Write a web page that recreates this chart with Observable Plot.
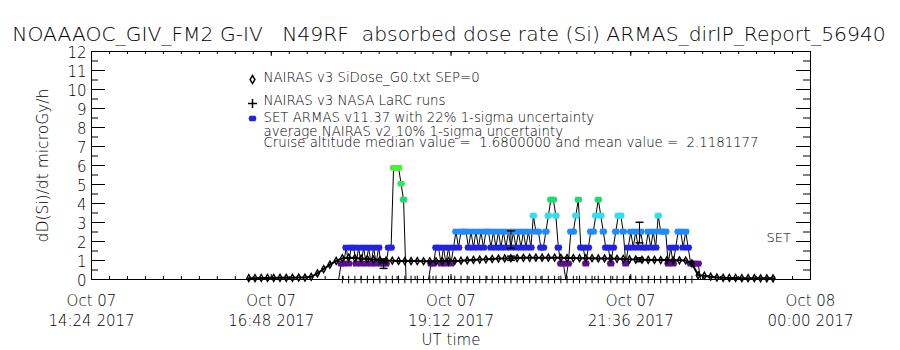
<!DOCTYPE html>
<html><head><meta charset="utf-8">
<script src="https://cdn.jsdelivr.net/npm/d3@7"></script>
<script src="https://cdn.jsdelivr.net/npm/@observablehq/plot@0.6"></script>
<style>body{margin:0;background:#fff;}</style>
</head><body><div id="chart"></div>
<script>
// ---------- data ----------
const titleText = "NOAAAOC_GIV_FM2 G-IV   N49RF  absorbed dose rate (Si) ARMAS_dirIP_Report_56940";
const yTitle = "dD(Si)/dt microGy/h";
const xTitle = "UT time";
const legendLabels = [
  "NAIRAS v3 SiDose_G0.txt SEP=0",
  "NAIRAS v3 NASA LaRC runs",
  "SET ARMAS v11.37 with 22% 1-sigma uncertainty",
  "average NAIRAS v2 10% 1-sigma uncertainty",
  "Cruise altitude median value =  1.6800000 and mean value =  2.1181177"
];
const xTickTimes = ["2017-10-07T14:24", "2017-10-07T16:48", "2017-10-07T19:12", "2017-10-07T21:36", "2017-10-08T00:00"];
const xTickLabels = ["Oct 07\n14:24 2017", "Oct 07\n16:48 2017", "Oct 07\n19:12 2017", "Oct 07\n21:36 2017", "Oct 08\n00:00 2017"];
const yTickValues = [0,1,2,3,4,5,6,7,8,9,10,11,12];

// NAIRAS v3 SiDose (UT 2017-10-07)
const siTime = ["16:30","16:35","16:40","16:45","16:50","16:55","17:00","17:05","17:10","17:15","17:20","17:25","17:30","17:35","17:40","17:45","17:50","17:55",
  "18:00","18:05","18:10","18:15","18:20","18:25","18:30","18:35","18:40","18:45","18:50","18:55",
  "19:00","19:05","19:10","19:15","19:20","19:25","19:30","19:35","19:40","19:45","19:50","19:55",
  "20:00","20:05","20:10","20:15","20:20","20:25","20:30","20:35","20:40","20:45","20:50","20:55",
  "21:00","21:05","21:10","21:15","21:20","21:25","21:30","21:35","21:40","21:45","21:50","21:55",
  "22:00","22:05","22:10","22:15","22:20","22:25","22:30","22:35","22:40","22:45","22:50","22:55",
  "23:00","23:05","23:10","23:15","23:20","23:25","23:30"];
const siDose = [0.07,0.07,0.08,0.08,0.08,0.09,0.09,0.09,0.10,0.10,0.14,0.32,0.55,0.78,0.98,1.12,1.15,1.13,
  1.10,1.08,1.05,1.02,1.00,0.99,0.98,0.97,0.97,0.97,0.96,0.96,
  0.96,0.97,0.97,0.98,0.99,1.01,1.03,1.05,1.06,1.08,1.10,1.11,
  1.12,1.13,1.14,1.14,1.15,1.15,1.15,1.15,1.14,1.13,1.13,1.12,
  1.12,1.12,1.11,1.11,1.10,1.09,1.08,1.06,1.05,1.04,1.03,1.03,
  1.02,1.02,1.01,1.01,1.00,0.85,0.22,0.20,0.15,0.10,0.09,0.08,
  0.08,0.07,0.07,0.07,0.06,0.06,0.06];

// NAIRAS v3 NASA LaRC runs
const larcTime = ["17:45","17:50","17:55","18:00","18:05","18:10","18:15","18:20","18:25","18:30","18:35","18:40","18:45","18:50","18:55",
  "19:00","19:05","19:10","19:15","19:20","19:25","19:30","19:35","19:40","19:45","19:50","19:55",
  "20:00","20:05","20:10","20:15","20:20","20:25","20:30","20:35","20:40","20:45","20:50","20:55",
  "21:00","21:05","21:10","21:15","21:20","21:25","21:30","21:35","21:40","21:45","21:50","21:55",
  "22:00","22:05","22:10","22:15","22:20","22:25"];
const larcDose = [0,0,0,0,0,0,0,0,0,0,0,0,0,0,0, 0,0,0,0,0,0,0,0,0,0,0,0, 0,0,0,0,0,0,0,0,0,0,0,0, 0,0,0,0,0,0,0,0,0,0,0,0, 0,0,0,0,0,0];

// SET ARMAS v11.37
const armasTime = ["17:42","17:44","17:46","17:48","17:50","17:52","17:54","17:56","17:58",
  "18:00","18:02","18:04","18:06","18:08","18:10","18:12","18:14","18:16","18:18","18:20","18:22","18:24","18:26","18:28","18:30","18:32","18:34","18:36","18:38","18:40","18:42","18:44","18:46","18:48","18:50","18:52","18:54","18:56","18:58",
  "19:00","19:02","19:04","19:06","19:08","19:10","19:12","19:14","19:16","19:18","19:20","19:22","19:24","19:26","19:28","19:30","19:32","19:34","19:36","19:38","19:40","19:42","19:44","19:46","19:48","19:50","19:52","19:54","19:56","19:58",
  "20:00","20:02","20:04","20:06","20:08","20:10","20:12","20:14","20:16","20:18","20:20","20:22","20:24","20:26","20:28","20:30","20:32","20:34","20:36","20:38","20:40","20:42","20:44","20:46","20:48","20:50","20:52","20:54","20:56","20:58",
  "21:00","21:02","21:04","21:06","21:08","21:10","21:12","21:14","21:16","21:18","21:20","21:22","21:24","21:26","21:28","21:30","21:32","21:34","21:36","21:38","21:40","21:42","21:44","21:46","21:48","21:50","21:52","21:54","21:56","21:58",
  "22:00","22:02","22:04","22:06","22:08","22:10","22:12","22:14","22:16","22:18","22:20","22:22","22:24","22:26","22:28","22:30","22:32"];
const armasDose = [0,0.84,0.84,1.68,0.84,1.68,1.68,0.84,1.68,
  0.84,1.68,0.84,1.68,0.84,1.68,0.84,1.68,0.84,0.84,0.84,1.68,1.68,5.88,5.88,5.88,5.04,4.2,0,0,0,0,0,0,0,0,0,0,0.84,0.84,
  1.68,1.68,0.84,1.68,0.84,1.68,0.84,1.68,2.52,1.68,2.52,2.52,2.52,1.68,2.52,1.68,2.52,1.68,2.52,1.68,2.52,2.52,1.68,2.52,1.68,2.52,1.68,2.52,1.68,2.52,
  1.68,2.52,1.68,2.52,1.68,2.52,1.68,2.52,1.68,3.36,2.52,2.52,1.68,1.68,2.52,3.36,4.2,4.2,3.36,1.68,0.84,0.84,0,0.84,2.52,2.52,3.36,4.2,1.68,1.68,
  0.84,1.68,2.52,2.52,3.36,4.2,3.36,2.52,1.68,1.68,0.84,1.68,2.52,3.36,3.36,2.52,0.84,1.68,2.52,1.68,2.52,1.68,2.52,1.68,1.68,2.52,1.68,2.52,1.68,3.36,
  2.52,2.52,2.52,0.84,1.68,0.84,1.68,2.52,2.52,1.68,2.52,1.68,0.84,0.84,0.84,0.84,0];

// 1-sigma uncertainty bars
const errTime = ["18:18","20:00","21:43"];
const armasErrMid = [0.75, 2.10, 2.47];
const armasErrHalf = [0.165, 0.46, 0.54];
const nairasErrMid = [0.98, 1.12, 1.04];
const nairasErrHalf = [0.10, 0.11, 0.10];

// ARMAS colour levels (IDL rainbow table)
const levelBreaks = [0.42, 1.26, 2.1, 2.94, 3.78, 4.62, 5.46];
const levelColors = ["#000000", "#5c1090", "#2222e4", "#1e8cff", "#30e0f0", "#22d870", "#30e860", "#48f038"];

// ---------- build ----------
const toDate = t => new Date(`2017-10-07T${t}:00Z`);
const si = siTime.map((t, i) => ({t: toDate(t), v: siDose[i]}));
const larc = larcTime.map((t, i) => ({t: toDate(t), v: larcDose[i]}));
const armas = armasTime.map((t, i) => ({t: toDate(t), v: armasDose[i]}));
const errs = errTime.map((t, i) => ({t: toDate(t), am: armasErrMid[i], ah: armasErrHalf[i], nm: nairasErrMid[i], nh: nairasErrHalf[i]}));
const xMajor = xTickTimes.map(s => new Date(s + ":00Z"));
const x0 = xMajor[0], x1 = xMajor[xMajor.length - 1];
const xMinor = d3.range(0, 41).map(i => new Date(+x0 + i * (x1 - x0) / 40));
const yMinor = d3.range(0, 12.01, 0.5);

const W = 900, H = 350, ML = 91, MR = 90, MT = 51, MB = 71;
const FW = W - ML - MR, FH = H - MT - MB;
const FONT = '"DejaVu Sans", "Liberation Sans", sans-serif';

// IDL-style user symbols
const cap = {draw(ctx, size) { const r = Math.sqrt(size / Math.PI); ctx.moveTo(-r, 0); ctx.lineTo(r, 0); }};
const blob = {draw(ctx, size) {
  const r = Math.sqrt(size / Math.PI), a = 1.3 * r, b = 0.95 * r;
  ctx.moveTo(-a, 0); ctx.lineTo(-0.75 * a, -b); ctx.lineTo(0.75 * a, -b); ctx.lineTo(a, 0);
  ctx.lineTo(0.75 * a, b); ctx.lineTo(-0.75 * a, b); ctx.closePath();
}};
const legendDy = [26, 49, 66, 80, 91];
const txt = {fill: "#000", lineAnchor: "middle", fontWeight: 300};

const chart = Plot.plot({
  width: W, height: H,
  marginLeft: ML, marginRight: MR, marginTop: MT, marginBottom: MB,
  style: {fontFamily: FONT, background: "#fff", color: "#000"},
  x: {type: "utc", domain: [x0, x1], axis: null},
  y: {domain: [0, 12], axis: null},
  color: {type: "threshold", domain: levelBreaks, range: levelColors},
  marks: [
    // LaRC runs
    Plot.dot(larc, {x: "t", y: "v", symbol: "plus", r: 2.6, stroke: "#000", strokeWidth: 1}),
    // ARMAS
    Plot.line(armas, {x: "t", y: "v", stroke: "#000", strokeWidth: 1}),
    Plot.dot(armas.filter(d => d.v > 0), {x: "t", y: "v", fill: "v", symbol: blob, r: 3}),
    // NAIRAS SiDose
    Plot.line(si, {x: "t", y: "v", stroke: "#000", strokeWidth: 2}),
    Plot.dot(si, {x: "t", y: "v", symbol: "diamond", r: 2.1, stroke: "#000", strokeWidth: 1.4, fill: "none"}),
    // uncertainty bars
    Plot.ruleX(errs, {x: "t", y1: d => d.am - d.ah, y2: d => d.am + d.ah, stroke: "#000"}),
    Plot.dot(errs, {x: "t", y: d => d.am - d.ah, symbol: cap, r: 4, stroke: "#000"}),
    Plot.dot(errs, {x: "t", y: d => d.am + d.ah, symbol: cap, r: 4, stroke: "#000"}),
    Plot.ruleX(errs, {x: "t", y1: d => d.nm - d.nh, y2: d => d.nm + d.nh, stroke: "#000"}),
    Plot.dot(errs, {x: "t", y: d => d.nm - d.nh, symbol: cap, r: 4, stroke: "#000"}),
    Plot.dot(errs, {x: "t", y: d => d.nm + d.nh, symbol: cap, r: 4, stroke: "#000"}),
    // frame and ticks
    Plot.frame({stroke: "#000"}),
    Plot.tickX(xMinor, {x: d => d, insetTop: FH - 3, stroke: "#000"}),
    Plot.tickX(xMinor, {x: d => d, insetBottom: FH - 3, stroke: "#000"}),
    Plot.tickX(xMajor, {x: d => d, insetTop: FH - 5, stroke: "#000"}),
    Plot.tickX(xMajor, {x: d => d, insetBottom: FH - 5, stroke: "#000"}),
    Plot.tickY(yMinor, {y: d => d, insetRight: FW - 7, stroke: "#000"}),
    Plot.tickY(yMinor, {y: d => d, insetLeft: FW - 7, stroke: "#000"}),
    Plot.tickY(yTickValues, {y: d => d, insetRight: FW - 14, stroke: "#000"}),
    Plot.tickY(yTickValues, {y: d => d, insetLeft: FW - 14, stroke: "#000"}),
    // tick labels
    Plot.text(xMajor, {x: d => d, text: (d, i) => xTickLabels[i], frameAnchor: "bottom", dy: 12, lineAnchor: "top", lineHeight: 1.33, fontSize: 15, fill: "#000", fontWeight: 300}),
    Plot.text(yTickValues, {y: d => d, text: d => String(d), frameAnchor: "left", dx: -5, dy: 1.5, textAnchor: "end", fontSize: 15, ...txt}),
    // axis titles
    Plot.text([xTitle], {frameAnchor: "bottom", dy: 61, text: d => d, fontSize: 15, ...txt}),
    Plot.text([yTitle], {frameAnchor: "left", dx: -48, rotate: -90, textAnchor: "middle", text: d => d, fontSize: 15.5, ...txt}),
    Plot.text([titleText], {frameAnchor: "top", dy: -17.5, dx: -2, text: d => d, fontSize: 20.3, ...txt}),
    // legend
    Plot.dot([0], {frameAnchor: "top-left", dx: 161, dy: 28, symbol: "diamond", r: 2.5, stroke: "#000", fill: "none"}),
    Plot.dot([0], {frameAnchor: "top-left", dx: 161, dy: 52, symbol: "plus", r: 3, stroke: "#000"}),
    Plot.dot([0], {frameAnchor: "top-left", dx: 161, dy: 67, symbol: blob, r: 3, fill: levelColors[2]}),
    ...legendLabels.map((s, i) => Plot.text([s], {frameAnchor: "top-left", dx: 172, dy: legendDy[i], textAnchor: "start", text: d => d, fontSize: 13.3, ...txt})),
    Plot.text(["SET"], {frameAnchor: "top-left", dx: 675, dy: 186, textAnchor: "start", text: d => d, fontSize: 13, ...txt})
  ]
});
document.getElementById("chart").append(chart);
</script>
</body></html>
